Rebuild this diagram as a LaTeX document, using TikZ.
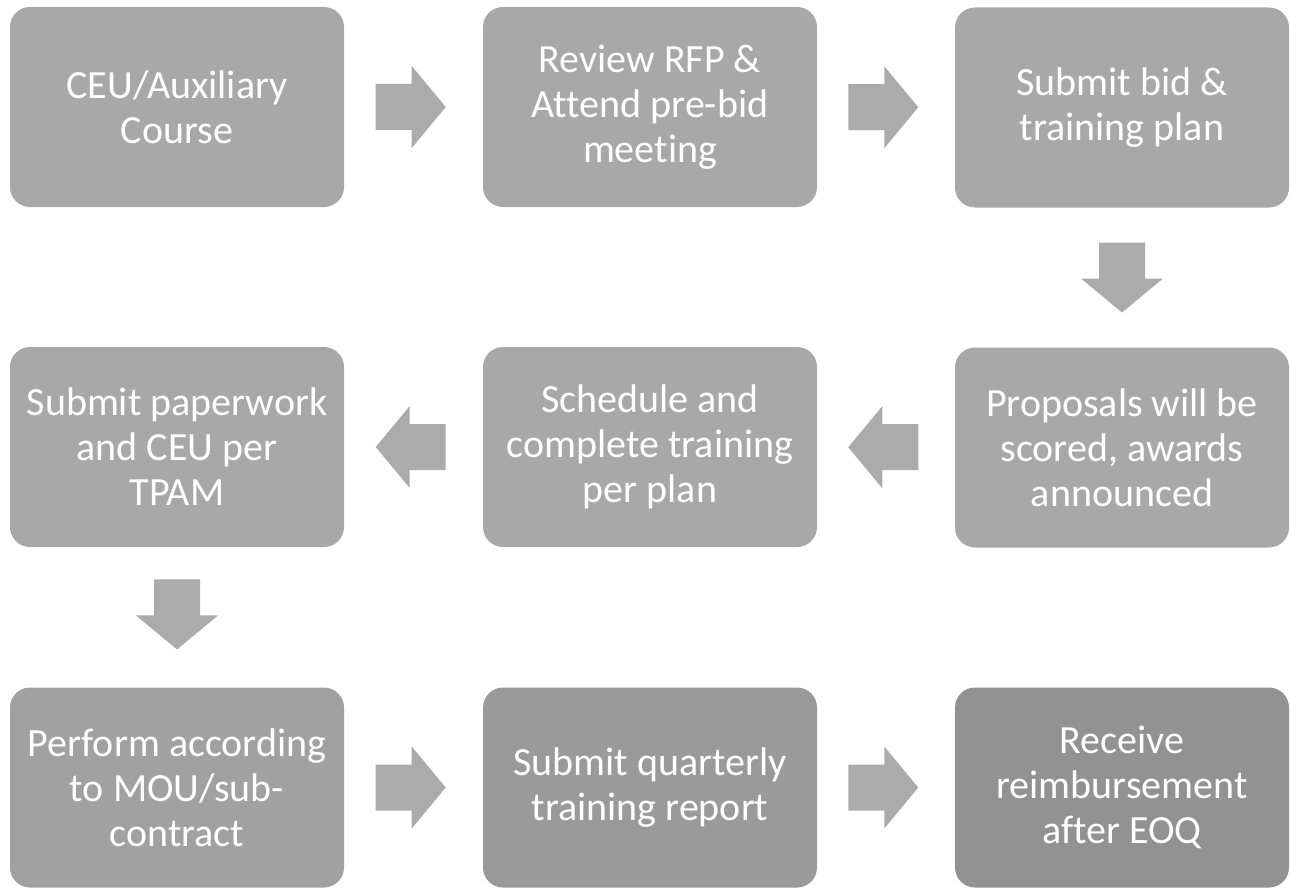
\documentclass[tikz,border=0pt]{standalone}
\usepackage{fontspec}
\setmainfont[Ligatures=NoCommon]{Carlito}
\usetikzlibrary{calc}
\definecolor{boxA}{HTML}{A8A8A8}
\definecolor{boxB}{HTML}{A1A1A1}
\definecolor{boxC}{HTML}{9A9A9A}
\definecolor{boxD}{HTML}{929292}
\definecolor{arrowfill}{HTML}{ABABAB}
\tikzset{
  stepbox/.style={rectangle, rounded corners=20pt, minimum width=334pt, minimum height=200pt,
    inner sep=0pt, align=center, text=white, font=\fontsize{40}{45}\selectfont},
  blockarrow/.pic={\fill[arrowfill] (-35,-23) -- (1,-23) -- (1,-41) -- (35,0) -- (1,41) -- (1,23) -- (-35,23) -- cycle;}
}
\begin{document}
\begin{tikzpicture}[x=1pt,y=1pt]
\useasboundingbox (0,0) rectangle (1290,-888);
% row 1
\node[stepbox, fill=boxA] (b1) at (177,-107) {CEU/Auxiliary\\Course};
\node[stepbox, fill=boxA] (b2) at (650,-107) {Review RFP \&\\Attend pre-bid\\meeting};
\node[stepbox, fill=boxA] (b3) at (1122,-107.5) {Submit bid \&\\training plan};
% row 2
\node[stepbox, fill=boxA] (b4) at (1122,-447.5) {Proposals will be\\scored, awards\\announced};
\node[stepbox, fill=boxA] (b5) at (650,-447) {Schedule and\\complete training\\per plan};
\node[stepbox, fill=boxA] (b6) at (177,-447) {Submit paperwork\\and CEU per\\TPAM};
% row 3
\node[stepbox, fill=boxB] (b7) at (177,-787.5) {Perform according\\to MOU/sub-\\contract};
\node[stepbox, fill=boxC] (b8) at (650,-787.5) {Submit quarterly\\training report};
\node[stepbox, fill=boxD] (b9) at (1122,-787.5) {Receive\\reimbursement\\after EOQ};
% connectors (block arrows)
\path (b1.east) -- (b2.west) coordinate[pos=0.48] (m12);
\path (b2.east) -- (b3.west) coordinate[pos=0.48] (m23);
\path (b3.south) -- (b4.north) coordinate[midway] (m34);
\path (b4.west) -- (b5.east) coordinate[pos=0.52] (m45);
\path (b5.west) -- (b6.east) coordinate[pos=0.52] (m56);
\path (b6.south) -- (b7.north) coordinate[pos=0.48] (m67);
\path (b7.east) -- (b8.west) coordinate[pos=0.48] (m78);
\path (b8.east) -- (b9.west) coordinate[pos=0.48] (m89);
\pic at (m12) {blockarrow};
\pic at (m23) {blockarrow};
\pic[rotate=-90] at (m34) {blockarrow};
\pic[rotate=180] at (m45) {blockarrow};
\pic[rotate=180] at (m56) {blockarrow};
\pic[rotate=-90] at (m67) {blockarrow};
\pic at (m78) {blockarrow};
\pic at (m89) {blockarrow};
\end{tikzpicture}
\end{document}
